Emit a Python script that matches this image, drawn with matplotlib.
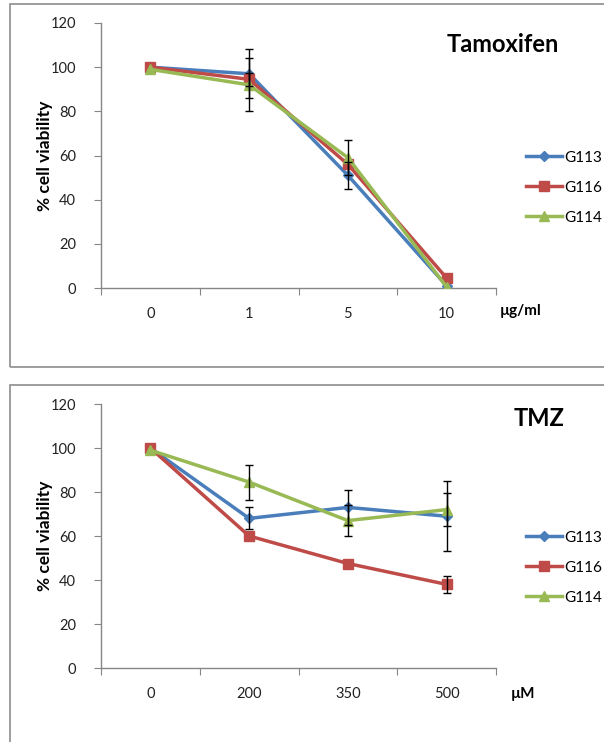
import numpy as np
import matplotlib
matplotlib.use('Agg')
import matplotlib.pyplot as plt
from matplotlib.patches import Rectangle

plt.rcParams['font.family'] = ['Lato', 'DejaVu Sans']

series = ['G113', 'G116', 'G114']
colors = ['#4a7ebb', '#be4b48', '#98b954']
markers = ['D', 's', '^']
msizes = [5, 7, 7]

# Tamoxifen panel
tam_doses = ['0', '1', '5', '10']
tam_vals = [[100, 97, 51, 1],
            [100, 94.5, 56, 4.5],
            [99, 92, 59, 0.5]]
tam_err = [[0, 11, 6, 0],
           [0, 3, 0, 0],
           [0, 12, 8, 0]]

# TMZ panel
tmz_doses = ['0', '200', '350', '500']
tmz_vals = [[100, 68, 73, 69],
            [100, 60, 47.5, 38],
            [99, 84.5, 67, 72]]
tmz_err = [[0, 5, 8, 16],
           [0, 0, 0, 4],
           [0, 8, 7, 7.5]]

W, H = 604, 742
fig = plt.figure(figsize=(W / 100, H / 100), dpi=100)

# panel frames (right side runs off the image)
for y0, y1 in [(4, 367), (385, 760)]:
    fig.patches.append(Rectangle((10 / W, 1 - y1 / H), 1.0, (y1 - y0) / H,
                                 transform=fig.transFigure, fill=False,
                                 edgecolor='#8c8c8c', lw=1.2))

axcol = '#868686'


def panel(top, bottom, doses, vals, errs, title, title_xy, unit, unit_xy, leg_y):
    ax = fig.add_axes([101 / W, 1 - bottom / H, (496 - 101) / W, (bottom - top) / H])
    x = np.arange(len(doses))
    for i in range(len(series)):
        ax.plot(x, vals[i], color=colors[i], marker=markers[i], ms=msizes[i],
                lw=2.5, label=series[i], zorder=3)
        e = np.array(errs[i])
        m = e > 0
        ax.errorbar(x[m], np.array(vals[i])[m], yerr=e[m], fmt='none', ecolor='black',
                    elinewidth=1, capsize=3, capthick=1, zorder=4)
    ax.set_xlim(-0.5, len(doses) - 0.5)
    ax.set_ylim(0, 120)
    ax.set_yticks(range(0, 121, 20))
    ax.set_xticks(np.arange(-0.5, len(doses), 1.0))
    ax.set_xticklabels([])
    ax.set_xticks(x, minor=True)
    ax.set_xticklabels(doses, minor=True)
    ax.tick_params(axis='x', which='minor', length=0, pad=14, labelsize=10.5, colors='#222222')
    ax.tick_params(axis='x', which='major', length=5, direction='out', color=axcol)
    ax.tick_params(axis='y', length=5, direction='out', color=axcol, labelsize=10.5,
                   labelcolor='#222222', pad=13)
    for s in ['top', 'right']:
        ax.spines[s].set_visible(False)
    for s in ['left', 'bottom']:
        ax.spines[s].set_color(axcol)
        ax.spines[s].set_linewidth(1)
    ax.set_ylabel('% cell viability', fontsize=12.5, fontweight='bold')
    ax.yaxis.set_label_coords((53 - 101) / (496 - 101), 0.5)
    fig.text(title_xy[0] / W, 1 - title_xy[1] / H, title, fontsize=17,
             fontweight='bold', ha='center', va='center')
    fig.text(unit_xy[0] / W, 1 - unit_xy[1] / H, unit, fontsize=11,
             fontweight='bold', ha='center', va='center')
    ax.legend(loc='upper left', bbox_to_anchor=(512 / W, 1 - leg_y / H),
              bbox_transform=fig.transFigure, frameon=False, fontsize=11,
              handlelength=2.4, handletextpad=0.1, labelspacing=1.05)
    return ax


panel(23, 288, tam_doses, tam_vals, tam_err, 'Tamoxifen', (503, 45), 'µg/ml', (521, 311), 137)
panel(404, 668, tmz_doses, tmz_vals, tmz_err, 'TMZ', (539, 419), 'µM', (523, 694), 517)

fig.savefig('out.png', dpi=100)
